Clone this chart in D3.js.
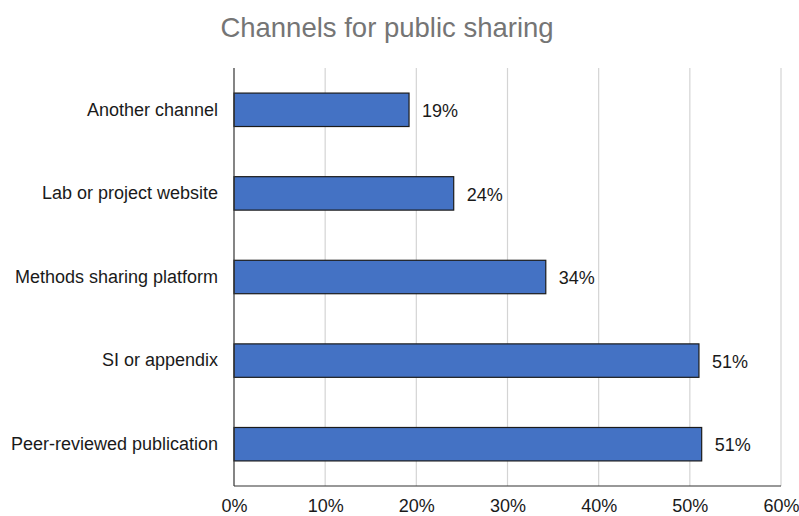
<!DOCTYPE html>
<html>
<head>
<meta charset="utf-8">
<script src="https://cdn.jsdelivr.net/npm/d3@7"></script>
<style>
  html, body { margin: 0; padding: 0; background: #fff; }
  svg { display: block; font-family: "Liberation Sans", Arial, sans-serif; }
</style>
</head>
<body>
<svg id="chart" width="799" height="516"></svg>
<script>
// Share of respondents using each channel for public sharing
const categories = [
  "Another channel",
  "Lab or project website",
  "Methods sharing platform",
  "SI or appendix",
  "Peer-reviewed publication"
];
const shares = [0.192, 0.241, 0.342, 0.510, 0.513];
const xTicks = [0, 0.1, 0.2, 0.3, 0.4, 0.5, 0.6];
const chartTitle = "Channels for public sharing";

const svg = d3.select("#chart");
const margin = { top: 68, left: 234 };
const plotBottom = 486;
const labelFont = "18px";

const x = d3.scaleLinear().domain([0, 0.6]).range([margin.left, 781]);
const y = d3.scaleBand()
  .domain(categories)
  .range([margin.top, plotBottom])
  .paddingInner(0.6)
  .paddingOuter(0.3);

const pct = d3.format(".0%");

// Title
svg.append("text")
  .attr("x", 387)
  .attr("y", 37)
  .attr("text-anchor", "middle")
  .attr("fill", "#757575")
  .style("font-size", "27.5px")
  .text(chartTitle);

// Vertical gridlines
svg.append("g")
  .selectAll("line")
  .data(xTicks.slice(1))
  .join("line")
  .attr("x1", d => x(d))
  .attr("x2", d => x(d))
  .attr("y1", margin.top)
  .attr("y2", plotBottom)
  .attr("stroke", "#d4d4d4")
  .attr("stroke-width", 1.2);

// Bars
svg.append("g")
  .selectAll("rect")
  .data(categories)
  .join("rect")
  .attr("x", x(0))
  .attr("y", d => y(d))
  .attr("width", (d, i) => x(shares[i]) - x(0))
  .attr("height", y.bandwidth())
  .attr("fill", "#4472c4")
  .attr("stroke", "#1b1b1b")
  .attr("stroke-width", 1.2);

// Value labels
svg.append("g")
  .selectAll("text")
  .data(categories)
  .join("text")
  .attr("x", (d, i) => x(shares[i]) + 13)
  .attr("y", d => y(d) + y.bandwidth() / 2)
  .attr("dy", "0.4em")
  .attr("fill", "#1a1a1a")
  .style("font-size", labelFont)
  .text((d, i) => pct(shares[i]));

// Category axis
const yAxis = svg.append("g")
  .attr("transform", `translate(${margin.left},0)`)
  .call(d3.axisLeft(y).tickSize(0).tickPadding(16));
yAxis.select(".domain").remove();
yAxis.selectAll("text")
  .attr("fill", "#1a1a1a")
  .style("font-size", labelFont)
  .style("font-family", "'Liberation Sans', Arial, sans-serif");

// Value axis
const xAxis = svg.append("g")
  .attr("transform", `translate(0,${plotBottom})`)
  .call(d3.axisBottom(x).tickValues(xTicks).tickFormat(pct).tickSize(0).tickPadding(13));
xAxis.select(".domain").remove();
xAxis.selectAll("text")
  .attr("fill", "#1a1a1a")
  .style("font-size", labelFont)
  .style("font-family", "'Liberation Sans', Arial, sans-serif");

// Axis lines
svg.append("line")
  .attr("x1", x(0)).attr("x2", x(0))
  .attr("y1", margin.top).attr("y2", plotBottom)
  .attr("stroke", "#333").attr("stroke-width", 1.2);
svg.append("line")
  .attr("x1", x(0)).attr("x2", x(0.6))
  .attr("y1", plotBottom).attr("y2", plotBottom)
  .attr("stroke", "#333").attr("stroke-width", 1.2);
</script>
</body>
</html>
